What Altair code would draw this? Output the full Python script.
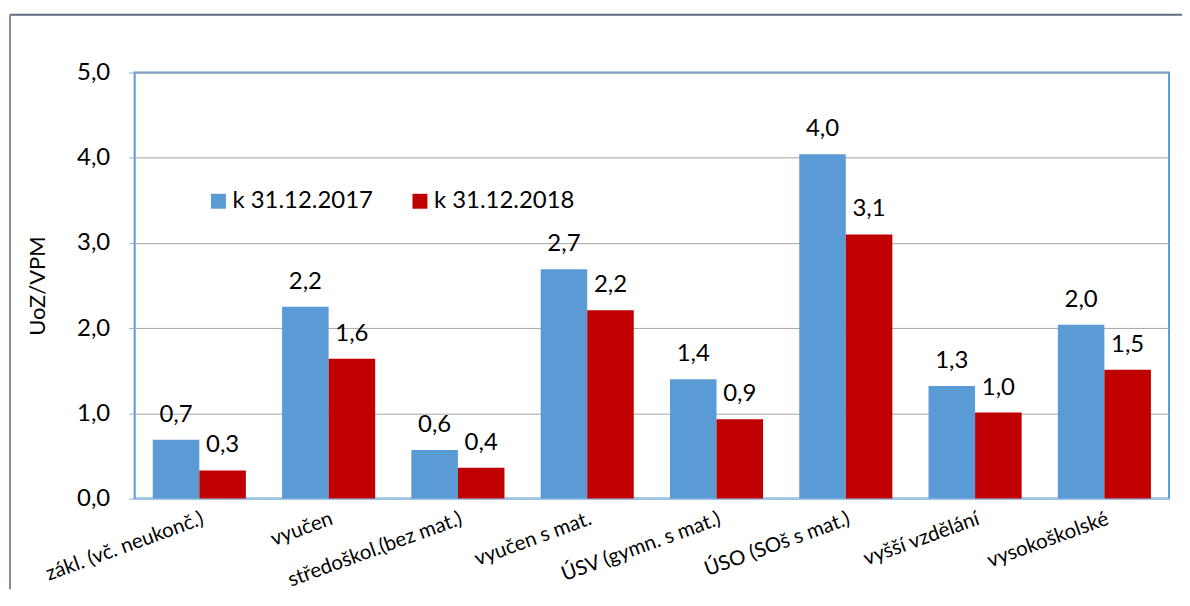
import altair as alt
import pandas as pd

categories = ["zákl. (vč. neukonč.)", "vyučen", "středoškol.(bez mat.)", "vyučen s mat.",
              "ÚSV (gymn. s mat.)", "ÚSO (SOš s mat.)", "vyšší vzdělání", "vysokoškolské"]
series = ["k 31.12.2017", "k 31.12.2018"]
values_2017 = [0.69, 2.25, 0.57, 2.69, 1.40, 4.04, 1.32, 2.04]
values_2018 = [0.33, 1.64, 0.36, 2.21, 0.93, 3.10, 1.01, 1.51]
labels_2017 = ["0,7", "2,2", "0,6", "2,7", "1,4", "4,0", "1,3", "2,0"]
labels_2018 = ["0,3", "1,6", "0,4", "2,2", "0,9", "3,1", "1,0", "1,5"]

rows = []
for c, v, l in zip(categories, values_2017, labels_2017):
    rows.append({"kat": c, "serie": series[0], "val": v, "lab": l})
for c, v, l in zip(categories, values_2018, labels_2018):
    rows.append({"kat": c, "serie": series[1], "val": v, "lab": l})
df = pd.DataFrame(rows)

FONT = "Lato"
W, H = 1037, 427

xenc = alt.X("kat:N", sort=categories, title=None,
             scale=alt.Scale(paddingInner=0.28, paddingOuter=0.14),
             axis=alt.Axis(labelAngle=-20, labelAlign="right", labelBaseline="top",
                           labelFontSize=20.5, labelFont=FONT, labelColor="#000000",
                           labelPadding=10, ticks=False, domainColor="#9dc3e6",
                           domainWidth=2, labelLimit=400))
xoff = alt.XOffset("serie:N", sort=series, scale=alt.Scale(paddingInner=0, paddingOuter=0))
yenc = alt.Y("val:Q", title="UoZ/VPM",
             scale=alt.Scale(domain=[0, 5], nice=False),
             axis=alt.Axis(values=[0, 1, 2, 3, 4, 5],
                           labelExpr="replace(format(datum.value, '.1f'), '.', ',')",
                           labelFontSize=24, labelFont=FONT, labelColor="#000000",
                           labelPadding=19, tickSize=6, tickColor="#8eaed0",
                           domain=False, gridColor="#a6a6a6", gridWidth=1,
                           titleFont=FONT, titleFontSize=22, titleFontWeight="normal",
                           titleColor="#000000", titleX=-97, titleY=H / 2,
                           titleAngle=-90, titleAlign="center", titleBaseline="middle"))

bars = alt.Chart(df).mark_bar(stroke=None).encode(
    x=xenc, xOffset=xoff, y=yenc,
    color=alt.Color("serie:N", sort=series,
                    scale=alt.Scale(domain=series, range=["#5b9bd5", "#c00000"]),
                    legend=alt.Legend(title=None, orient="none", legendX=72, legendY=117,
                                      direction="horizontal", symbolType="square",
                                      symbolSize=225, symbolStrokeWidth=0,
                                      labelFont=FONT, labelFontSize=24, labelColor="#000000",
                                      labelOffset=2, columnPadding=34, padding=0)),
)

text = alt.Chart(df).mark_text(baseline="alphabetic", align="center", dy=-18,
                               font=FONT, fontSize=24, color="#000000").encode(
    x=alt.X("kat:N", sort=categories), xOffset=alt.XOffset("serie:N", sort=series),
    y="val:Q", text="lab:N")

frame_df = pd.DataFrame({"k": [0]})
frame_top = alt.Chart(frame_df).mark_rule(color="#5f6b80", strokeWidth=2).encode(
    x=alt.value(-125), x2=alt.value(1050), y=alt.value(-58))
frame_left = alt.Chart(frame_df).mark_rule(color="#7f8ba0", strokeWidth=2).encode(
    x=alt.value(-125), y=alt.value(-58), y2=alt.value(H + 91))

chart = alt.layer(bars, text, frame_top, frame_left).properties(
    width=W, height=H,
    autosize=alt.AutoSizeParams(type="none"),
    padding={"left": 127, "top": 64, "right": 13, "bottom": 91},
    background="#ffffff",
).configure_view(stroke="#5b9bd5", strokeWidth=2)

chart.save("out.html", embed_options={"renderer": "svg", "actions": False})
